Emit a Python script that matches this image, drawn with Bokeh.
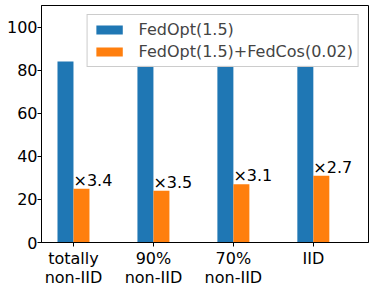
from bokeh.plotting import figure
from bokeh.models import ColumnDataSource, FixedTicker, Range1d, Legend, LegendItem, LinearAxis
from bokeh.core.properties import value
from bokeh.embed import file_html
from bokeh.resources import INLINE

categories = ["totally\nnon-IID", "90%\nnon-IID", "70%\nnon-IID", "IID"]
fedopt = [84, 82, 82, 82]
fedcos = [25, 24, 27, 31]
speedup = ["×3.4", "×3.5", "×3.1", "×2.7"]
yticks = [0, 20, 40, 60, 80, 100]

FONT = "DejaVu Sans"
FS = "16px"
xs = list(range(len(categories)))
src = ColumnDataSource(dict(
    x=xs,
    xb=[x - 0.1 for x in xs],
    xo=[x + 0.1 for x in xs],
    fedopt=fedopt,
    fedcos=fedcos,
    lab=speedup,
    ly=[v - 0.5 for v in fedcos],
))

lines1 = [c.split("\n")[0] for c in categories]
lines2 = [c.split("\n")[1] if "\n" in c else "" for c in categories]

p = figure(width=374, height=289, output_backend="svg", toolbar_location=None,
           x_range=Range1d(-0.4, 3.69), y_range=Range1d(0, 110),
           min_border_left=41, min_border_right=6, min_border_top=5, min_border_bottom=45)

rb = p.vbar(x="xb", top="fedopt", width=0.2, source=src, color="#1f77b4", line_color=None)
ro = p.vbar(x="xo", top="fedcos", width=0.2, source=src, color="#ff7f0e", line_color=None)
p.text(x="x", y="ly", text="lab", source=src, text_font=value(FONT),
       text_font_size=FS, text_baseline="bottom", text_align="left", text_color="black")

legend = Legend(items=[LegendItem(label="FedOpt(1.5)", renderers=[rb]),
                       LegendItem(label="FedOpt(1.5)+FedCos(0.02)", renderers=[ro])],
                location="top_right", label_text_font=FONT, label_text_font_size=FS,
                glyph_width=33, glyph_height=11, label_height=19, spacing=3, padding=5, margin=9,
                border_line_color="#cccccc", border_line_alpha=1.0,
                background_fill_alpha=0.8, label_standoff=13)
p.add_layout(legend)

p.xgrid.visible = False
p.ygrid.visible = False
p.outline_line_color = "black"
p.outline_line_width = 1

ax2 = LinearAxis(ticker=FixedTicker(ticks=xs),
                 major_label_overrides={i: t for i, t in enumerate(lines2)},
                 axis_line_color=None, major_tick_line_color=None,
                 major_tick_out=0, major_tick_in=0, minor_tick_line_color=None,
                 major_label_standoff=-3, major_label_text_font=FONT,
                 major_label_text_font_size=FS, major_label_text_color="black")
p.add_layout(ax2, "below")

p.xaxis[0].ticker = FixedTicker(ticks=xs)
p.xaxis[0].major_label_overrides = {i: t for i, t in enumerate(lines1)}
p.xaxis[0].major_label_standoff = 2
p.yaxis.ticker = FixedTicker(ticks=yticks)
p.yaxis.major_label_standoff = 0
for ax in (p.xaxis[0], p.yaxis[0]):
    ax.major_label_text_font = FONT
    ax.major_label_text_font_size = FS
    ax.major_label_text_color = "black"
    ax.axis_line_color = "black"
    ax.major_tick_line_color = "black"
    ax.major_tick_out = 4
    ax.major_tick_in = 0
    ax.minor_tick_line_color = None

open("out.html", "w").write(file_html(p, INLINE))
